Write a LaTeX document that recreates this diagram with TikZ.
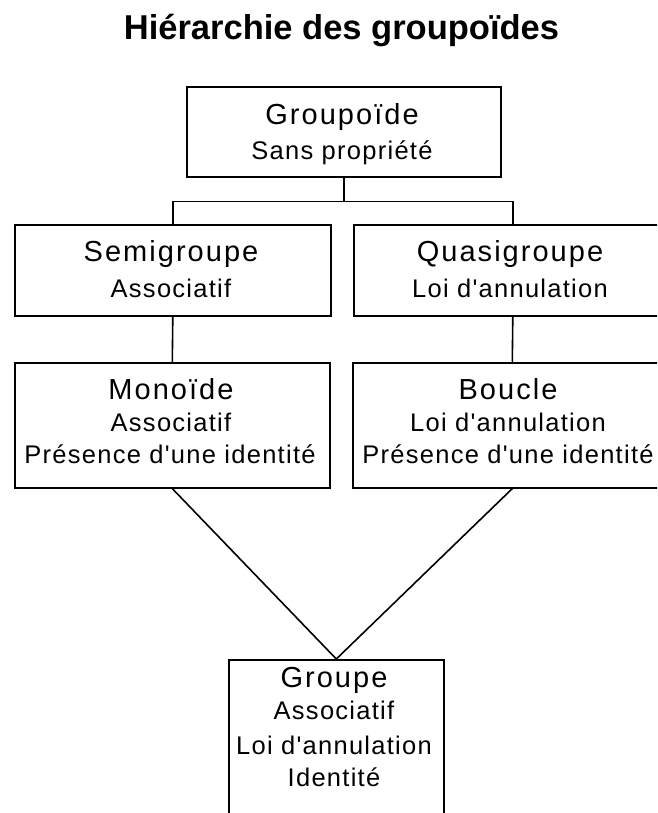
\documentclass[tikz,border=0pt]{standalone}
\usepackage{fontspec}
\setmainfont{Liberation Sans}
\newfontfamily\headf[LetterSpace=7]{Liberation Sans}
\newfontfamily\bodyf[LetterSpace=5]{Liberation Sans}
\newcommand\titlesz{\fontsize{34.5}{40}\selectfont\bfseries}
\newcommand\headsz{\headf\fontsize{29}{32}\selectfont}
\newcommand\bodysz{\bodyf\fontsize{25.5}{28}\selectfont}
\begin{document}
\begin{tikzpicture}[x=1pt,y=1pt,
  box/.style={draw=black, line width=1.6pt, rectangle, inner sep=0pt, anchor=north west},
  conn/.style={draw=black, line width=1.6pt},
  head/.style={anchor=base, inner sep=0pt, font=\headsz},
  body/.style={anchor=base, inner sep=0pt, font=\bodysz}]
\useasboundingbox (0,0) rectangle (657,813);
\fill[white] (0,0) rectangle (657,813);
\clip (0,0) rectangle (657,813);
% title
\node[anchor=base, inner sep=0pt, font=\titlesz] (title) at (341.5,773) {Hiérarchie des groupoïdes};
% boxes (top-left corner, size)
\node[box, minimum width=314pt, minimum height=90pt] (groupoide) at (186,727) {};
\node[box, minimum width=316pt, minimum height=91pt] (semi) at (14,589) {};
\node[box, minimum width=318pt, minimum height=91pt] (quasi) at (353,589) {};
\node[box, minimum width=315pt, minimum height=125pt] (mono) at (14,451) {};
\node[box, minimum width=319pt, minimum height=125pt] (boucle) at (352,451) {};
\node[box, minimum width=215pt, minimum height=190pt] (groupe) at (228,154) {};
% texts
\node[head] (t1a) at (342,688) {Groupoïde};
\node[body] (t1b) at (342,653) {Sans propriété};
\node[head] (t2a) at (171,551) {Semigroupe};
\node[body] (t2b) at (171,515) {Associatif};
\node[head] (t3a) at (510,551) {Quasigroupe};
\node[body] (t3b) at (510,515) {Loi d'annulation};
\node[head] (t4a) at (171,413) {Monoïde};
\node[body] (t4b) at (171,381) {Associatif};
\node[body] (t4c) at (170,349) {Présence d'une identité};
\node[head] (t5a) at (508,413) {Boucle};
\node[body] (t5b) at (508,381) {Loi d'annulation};
\node[body] (t5c) at (508,349) {Présence d'une identité};
\node[head] (t6a) at (334,125) {Groupe};
\node[body] (t6b) at (334,93) {Associatif};
\node[body] (t6c) at (334,58) {Loi d'annulation};
\node[body] (t6d) at (334,26) {Identité};
% connectors
\draw[conn] (groupoide.south) -- ++(0,-24) coordinate (j);
\draw[conn] (semi.north) |- (j) -| (quasi.north);
\draw[conn] (semi.south) -- (mono.north);
\draw[conn] (quasi.south) -- (boucle.north);
\draw[conn] (mono.south) -- (groupe.north);
\draw[conn] (boucle.south) -- (groupe.north);
\end{tikzpicture}
\end{document}
